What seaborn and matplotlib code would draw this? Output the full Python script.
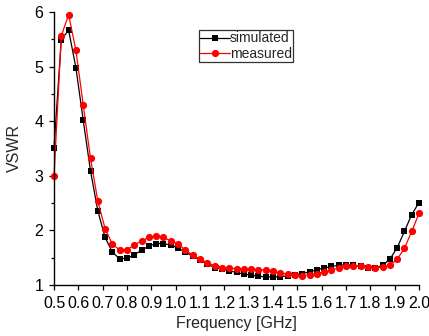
import matplotlib
matplotlib.use("Agg")
import matplotlib.pyplot as plt
import seaborn as sns
import pandas as pd
from matplotlib.ticker import MultipleLocator

freq = [0.50, 0.53, 0.56, 0.59, 0.62, 0.65, 0.68, 0.71, 0.74, 0.77,
        0.80, 0.83, 0.86, 0.89, 0.92, 0.95, 0.98, 1.01, 1.04, 1.07,
        1.10, 1.13, 1.16, 1.19, 1.22, 1.25, 1.28, 1.31, 1.34, 1.37,
        1.40, 1.43, 1.46, 1.49, 1.52, 1.55, 1.58, 1.61, 1.64, 1.67,
        1.70, 1.73, 1.76, 1.79, 1.82, 1.85, 1.88, 1.91, 1.94, 1.97,
        2.00]

simulated = [3.51, 5.49, 5.67, 4.98, 4.02, 3.09, 2.36, 1.87, 1.60, 1.48,
             1.49, 1.55, 1.64, 1.71, 1.76, 1.76, 1.73, 1.68, 1.60, 1.53,
             1.46, 1.38, 1.32, 1.29, 1.26, 1.23, 1.20, 1.18, 1.16, 1.15,
             1.15, 1.15, 1.17, 1.19, 1.21, 1.24, 1.28, 1.31, 1.34, 1.36,
             1.37, 1.36, 1.34, 1.32, 1.31, 1.36, 1.47, 1.68, 1.98, 2.29,
             2.51]

measured = [3.00, 5.56, 5.95, 5.30, 4.30, 3.32, 2.54, 2.03, 1.75, 1.64,
            1.65, 1.73, 1.81, 1.87, 1.89, 1.87, 1.81, 1.75, 1.64, 1.55,
            1.47, 1.41, 1.35, 1.32, 1.31, 1.30, 1.29, 1.29, 1.28, 1.27,
            1.25, 1.22, 1.20, 1.18, 1.17, 1.19, 1.21, 1.24, 1.28, 1.31,
            1.34, 1.35, 1.35, 1.33, 1.32, 1.33, 1.36, 1.47, 1.67, 1.98,
            2.31]

x_ticks = [0.5, 0.6, 0.7, 0.8, 0.9, 1.0, 1.1, 1.2, 1.3, 1.4,
           1.5, 1.6, 1.7, 1.8, 1.9, 2.0]
y_ticks = [1, 2, 3, 4, 5, 6]

sns.set_style("ticks")
plt.rcParams["font.family"] = ["Liberation Sans", "DejaVu Sans"]
plt.rcParams["font.size"] = 10

fig = plt.figure(figsize=(4.29, 3.36), dpi=100)
ax = fig.add_axes([54 / 429, 1 - 285 / 336, (419 - 54) / 429, (285 - 12) / 336])

df_sim = pd.DataFrame({"f": freq, "v": simulated})
df_meas = pd.DataFrame({"f": freq, "v": measured})

sns.lineplot(data=df_sim, x="f", y="v", ax=ax, color="black", marker="s",
             markersize=4.6, markeredgewidth=0, linewidth=0.9,
             label="simulated", clip_on=False)
sns.lineplot(data=df_meas, x="f", y="v", ax=ax, color="#ff0000", marker="o",
             markersize=5.2, markeredgewidth=0, linewidth=0.9,
             label="measured", clip_on=False)

ax.set_xlim(0.5, 2.0)
ax.set_ylim(1, 6)
ax.set_xticks(x_ticks)
ax.set_xticklabels([f"{t:.1f}" for t in x_ticks])
ax.set_yticks(y_ticks)
ax.yaxis.set_minor_locator(MultipleLocator(0.5))

for side in ("top", "right"):
    ax.spines[side].set_visible(False)
for side in ("left", "bottom"):
    ax.spines[side].set_linewidth(1.0)
    ax.spines[side].set_color("black")

ax.tick_params(axis="both", which="major", direction="out", length=3.6,
               width=0.9, colors="black", labelsize=11.5)
ax.tick_params(axis="y", which="major", pad=4)
ax.tick_params(axis="x", which="major", pad=4)
ax.tick_params(axis="y", which="minor", direction="out", length=2.2,
               width=0.9, colors="black")

ax.set_xlabel("Frequency [GHz]", fontsize=11.5, labelpad=4)
ax.set_ylabel("VSWR", fontsize=11.5, labelpad=9)

leg = ax.legend(loc="upper left", bbox_to_anchor=(199 / 429, 1 - 30 / 336),
                bbox_transform=fig.transFigure, frameon=True, fancybox=False,
                fontsize=10, handlelength=2.1, handletextpad=0.0,
                borderpad=0.1, labelspacing=0.1, borderaxespad=0.0)
leg.get_frame().set_edgecolor("black")
leg.get_frame().set_linewidth(0.9)

fig.savefig("out.png", dpi=100)
